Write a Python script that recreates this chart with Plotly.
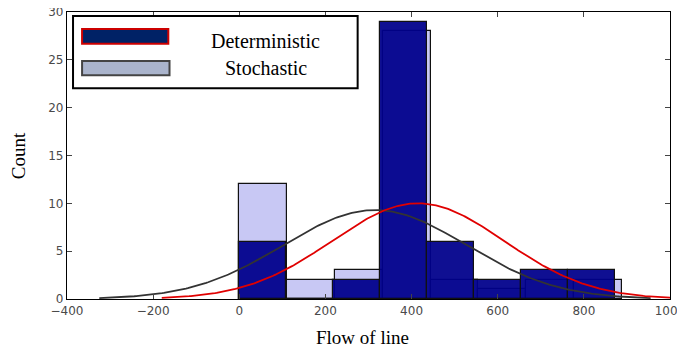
import numpy as np
import plotly.graph_objects as go

# Histogram data
det_edges = [0, 109, 218, 327, 436, 545, 654, 763, 872]
det_counts = [6, 0, 2, 29, 6, 2, 3, 3]
sto_edges = [0, 111, 222, 333, 444, 555, 666, 777, 888]
sto_counts = [12, 2, 3, 28, 2, 1, 2, 2]

# Fitted normal curves (parameters)
det_mu, det_sigma, det_peak = 415, 200, 10.0
det_range = (-180, 1010)
sto_mu, sto_sigma, sto_peak = 315, 212, 9.3
sto_range = (-325, 955)

x_ticks = [-400, -200, 0, 200, 400, 600, 800, 1000]
y_ticks = [0, 5, 10, 15, 20, 25, 30]

def centers(edges):
    return [(a + b) / 2 for a, b in zip(edges[:-1], edges[1:])]

def widths(edges):
    return [b - a for a, b in zip(edges[:-1], edges[1:])]

def curve(mu, sigma, peak, rng):
    xs = np.linspace(rng[0], rng[1], 300)
    return xs, peak * np.exp(-((xs - mu) ** 2) / (2 * sigma ** 2))

fig = go.Figure()
fig.add_trace(go.Bar(x=centers(sto_edges), y=sto_counts, width=widths(sto_edges),
                     marker=dict(color="#c8c8f4", line=dict(color="#111111", width=1.2)),
                     name="Stochastic", showlegend=False))
fig.add_trace(go.Bar(x=centers(det_edges), y=det_counts, width=widths(det_edges),
                     marker=dict(color="rgba(0,0,139,0.94)", line=dict(color="#111111", width=1.2)),
                     name="Deterministic", showlegend=False))
xs, ys = curve(sto_mu, sto_sigma, sto_peak, sto_range)
fig.add_trace(go.Scatter(x=xs, y=ys, mode="lines", line=dict(color="#333333", width=1.8),
                         showlegend=False))
xs, ys = curve(det_mu, det_sigma, det_peak, det_range)
fig.add_trace(go.Scatter(x=xs, y=ys, mode="lines", line=dict(color="#e00000", width=1.8),
                         showlegend=False))

tickfont = dict(family="DejaVu Sans", size=12, color="#4a4a4a")
fig.update_layout(
    width=677, height=352,
    margin=dict(l=59, r=15, t=4, b=61, autoexpand=False),
    paper_bgcolor="white", plot_bgcolor="white",
    barmode="overlay", bargap=0,
    xaxis=dict(range=[-400, 1000], tickvals=x_ticks, ticks="inside", ticklen=5,
               showline=True, linecolor="black", linewidth=1.2, mirror="ticks",
               showgrid=False, zeroline=False, tickfont=tickfont, automargin=False,
               ticklabeloverflow="allow"),
    yaxis=dict(range=[0, 30], tickvals=y_ticks, ticks="inside", ticklen=5,
               showline=True, linecolor="black", linewidth=1.2, mirror="ticks",
               showgrid=False, zeroline=False, tickfont=tickfont, automargin=False,
               ticklabeloverflow="allow"),
    showlegend=False,
)

# Custom legend box
fig.add_shape(type="rect", xref="paper", yref="paper", x0=0.010, x1=0.482, y0=0.734, y1=0.986,
              line=dict(color="black", width=2), fillcolor="white", layer="above")
fig.add_shape(type="rect", xref="paper", yref="paper", x0=0.025, x1=0.168, y0=0.889, y1=0.941,
              line=dict(color="#cc0000", width=2), fillcolor="#002266", layer="above")
fig.add_shape(type="rect", xref="paper", yref="paper", x0=0.025, x1=0.170, y0=0.780, y1=0.829,
              line=dict(color="#444444", width=2), fillcolor="#aab4cc", layer="above")
legfont = dict(family="Liberation Serif, Times New Roman", size=20, color="black")
fig.add_annotation(xref="paper", yref="paper", x=0.330, y=0.899, xanchor="center", yanchor="middle",
                   text="Deterministic", showarrow=False, font=legfont)
fig.add_annotation(xref="paper", yref="paper", x=0.330, y=0.805, xanchor="center", yanchor="middle",
                   text="Stochastic", showarrow=False, font=legfont)

titlefont = dict(family="Liberation Serif, Times New Roman", size=19, color="black")
fig.add_annotation(xref="paper", yref="paper", x=0.49, y=-0.135, xanchor="center", yanchor="middle",
                   text="Flow of line", showarrow=False, font=titlefont)
fig.add_annotation(xref="paper", yref="paper", x=-0.08, y=0.5, xanchor="center", yanchor="middle",
                   text="Count", textangle=-90, showarrow=False, font=titlefont)

fig.write_html("out.html")
